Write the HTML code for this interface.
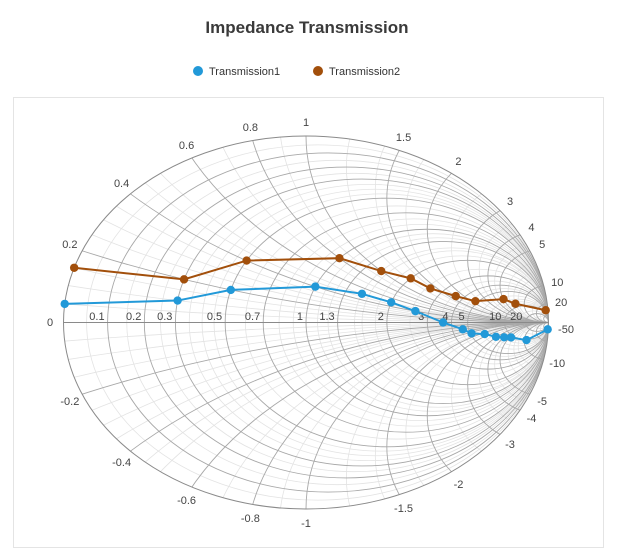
<!DOCTYPE html>
<html><head><meta charset="utf-8">
<style>
html,body{margin:0;padding:0;background:#fff;overflow:hidden;width:621px;height:550px;}
svg{display:block;}
svg text{font-family:"Liberation Sans",sans-serif;}
</style></head>
<body>
<svg id="chart" width="621" height="550" viewBox="0 0 621 550" xmlns="http://www.w3.org/2000/svg">
<rect x="0" y="0" width="621" height="550" fill="#fff"/>
<text x="307" y="33" text-anchor="middle" font-size="17" font-weight="bold" fill="#3a3a3a">Impedance Transmission</text>
<g>
<g><circle cx="198" cy="71" r="5" fill="#2299d8"/><text x="209" y="75" font-size="11" fill="#333">Transmission1</text></g>
<g><circle cx="318" cy="71" r="5" fill="#a24f0b"/><text x="329" y="75" font-size="11" fill="#333">Transmission2</text></g>
</g>
<rect x="13.5" y="97.5" width="590" height="450" fill="none" stroke="#e4e4e4"/>
<defs><clipPath id="uc"><ellipse cx="306" cy="322.5" rx="242.5" ry="186.5"/></clipPath></defs>
<g id="grid" clip-path="url(#uc)"></g>
<ellipse cx="306" cy="322.5" rx="242.5" ry="186.5" fill="none" stroke="#8a8a8a" stroke-width="1"/>
<line x1="63.5" y1="322.5" x2="548.5" y2="322.5" stroke="#8a8a8a"/>
<g id="labels"></g>
<g id="series"></g>
</svg>
<script>
const resMajor=[0.1,0.2,0.3,0.5,0.7,1,1.3,2,3,4,5,10,20];
const reactMajor=[0.2,0.4,0.6,0.8,1,1.5,2,3,4,5,10,20,50];
const resMinor=[0.05,0.15,0.25,0.35,0.4,0.45,0.6,0.8,0.9,1.1,1.2,1.5,1.6,1.8,2.5,3.5,4.5,6,7,8,9,15,30];
const reactMinor=[0.05,0.1,0.15,0.25,0.3,0.35,0.45,0.5,0.7,0.9,1.2,1.4,1.7,2.5,3.5,4.5,6,7,8,15,30];
const topLabels=["0.2","0.4","0.6","0.8","1","1.5","2","3","4","5","10","20"];
const topValues=[0.2,0.4,0.6,0.8,1,1.5,2,3,4,5,10,20];
const botLabels=["-0.2","-0.4","-0.6","-0.8","-1","-1.5","-2","-3","-4","-5","-10","-50"];
const botValues=[-0.2,-0.4,-0.6,-0.8,-1,-1.5,-2,-3,-4,-5,-10,-50];
const t1Res=[0,0.3,0.5,1,1.5,2,2.6,3.6,4.6,5.1,6.2,7.2,8.2,9.2,9.6,4];
const t1React=[0.05,0.1,0.2,0.4,0.5,0.5,0.4,0,-0.58,-1.12,-1.7,-2.9,-4,-5.3,-11,-54];
const t2Res=[0,0.3,0.5,1,1.5,2,2.6,3.6,4.8,6.4,8.5,4.2];
const t2React=[0.15,0.2,0.4,0.8,1,1.25,1.35,1.7,2.2,5,7,29.5];

const CX=306,CY=322.5,RX=242.5,RY=186.5,NS="http://www.w3.org/2000/svg";
function gam(r,x){const d=(r+1)*(r+1)+x*x;return [(r*r+x*x-1)/d,2*x/d];}
function sx(a){return CX+RX*a;}
function sy(b){return CY-RY*b;}
function mk(tag,attrs,parent){const e=document.createElementNS(NS,tag);for(const k in attrs)e.setAttribute(k,attrs[k]);parent.appendChild(e);return e;}
const grid=document.getElementById('grid');
function resCircle(r,col,w,name){
  const c=r/(1+r),rad=1/(1+r);
  const e=mk('ellipse',{cx:sx(c),cy:CY,rx:RX*rad,ry:RY*rad,fill:'none',stroke:col,'stroke-width':w},grid);
  
  
}
function reactArc(x,col,w,name){
  const rad=1/Math.abs(x),cy=1/x;
  const e=mk('ellipse',{cx:sx(1),cy:sy(cy),rx:RX*rad,ry:RY*rad,fill:'none',stroke:col,'stroke-width':w},grid);
  
  
}
resMinor.forEach(r=>resCircle(r,'#e3e3e3',0.8,'minor-resistance-circle'));
reactMinor.forEach(x=>{reactArc(x,'#e3e3e3',0.8,'minor-reactance-arc');reactArc(-x,'#e3e3e3',0.8,'minor-reactance-arc');});
resMajor.forEach(r=>resCircle(r,'#a8a8a8',0.9,'resistance-circle'));
reactMajor.forEach(x=>{reactArc(x,'#a8a8a8',0.9,'reactance-arc');reactArc(-x,'#a8a8a8',0.9,'reactance-arc');});

const lab=document.getElementById('labels');
function txt(s,x,y,anchor,name){const t=mk('text',{x:x,y:y,'font-size':11,fill:'#444','text-anchor':anchor},lab);t.textContent=s;

}
txt('0',50,326,'middle','resistance-label');
resMajor.forEach(r=>{const g=gam(r,0);txt(String(r),sx(g[0])-3,320,'end','resistance-label');});
function perim(v,s){
  const g=gam(0,v);const px=sx(g[0]),py=sy(g[1]);
  const nx=g[0]/RX,ny=-g[1]/RY;const L=Math.hypot(nx,ny);
  const ox=px+14*nx/L,oy=py+14*ny/L;
  txt(s,ox,oy+4,'middle','reactance-label');
}
topValues.forEach((v,i)=>perim(v,topLabels[i]));
botValues.forEach((v,i)=>{ if(v===-50){txt('-50',566,333,'middle','reactance-label');} else perim(v,botLabels[i]);});

const ser=document.getElementById('series');
function drawSeries(rs,xs,col,name){
  const pts=rs.map((r,i)=>{const g=gam(r,xs[i]);return [sx(g[0]),sy(g[1])];});
  const pl=mk('polyline',{points:pts.map(p=>p.join(',')).join(' '),fill:'none',stroke:col,'stroke-width':2},ser);
  
  
  pts.forEach(p=>{const c=mk('circle',{cx:p[0],cy:p[1],r:4.2,fill:col},ser);
    
    });
}
drawSeries(t2Res,t2React,'#a24f0b','transmission2');
drawSeries(t1Res,t1React,'#2299d8','transmission1');
</script>
</body></html>
